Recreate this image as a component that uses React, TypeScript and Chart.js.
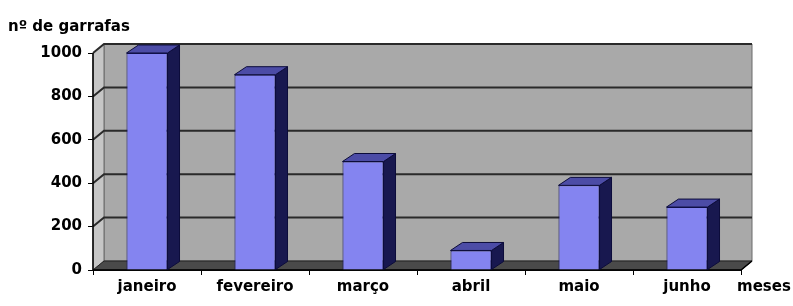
import React, { useEffect, useRef } from "react";
import { Chart, registerables } from "chart.js";

Chart.register(...registerables);

const categories = ["janeiro", "fevereiro", "março", "abril", "maio", "junho"];
const bottleCounts = [1000, 900, 500, 90, 390, 290];
const yMin = 0;
const yMax = 1000;
const yStep = 200;
const yAxisTitle = "nº de garrafas";
const xAxisTitle = "meses";

const FONT = "DejaVu Sans";
const WALL_DX = 11;
const WALL_DY = -9;
const BAR_DX = 12;
const BAR_DY = -8;

function poly(ctx: CanvasRenderingContext2D, pts: number[][], fill: string, stroke?: string, lw = 1) {
  ctx.beginPath();
  ctx.moveTo(pts[0][0], pts[0][1]);
  for (let i = 1; i < pts.length; i++) ctx.lineTo(pts[i][0], pts[i][1]);
  ctx.closePath();
  ctx.fillStyle = fill;
  ctx.fill();
  if (stroke) {
    ctx.strokeStyle = stroke;
    ctx.lineWidth = lw;
    ctx.stroke();
  }
}

const threeD = {
  id: "threeD",
  beforeDatasetsDraw(chart: any) {
    const { ctx, chartArea, scales } = chart;
    const { left, right, top, bottom } = chartArea;
    const y = scales.y;
    const dx = WALL_DX, dy = WALL_DY;
    ctx.save();
    // back wall
    poly(ctx, [[left + dx, top + dy], [right + dx, top + dy], [right + dx, bottom + dy], [left + dx, bottom + dy]], "#a9a9a9", "#6a6a6a", 1);
    // side wall
    poly(ctx, [[left, top], [left + dx, top + dy], [left + dx, bottom + dy], [left, bottom]], "#c6c6c6", "#6a6a6a", 1);
    // floor
    poly(ctx, [[left, bottom], [left + dx, bottom + dy], [right + dx, bottom + dy], [right, bottom]], "#4a4a4a", "#222", 1);
    // gridlines
    ctx.strokeStyle = "#2a2a2a";
    ctx.lineWidth = 2;
    y.ticks.forEach((t: any) => {
      if (t.value <= yMin) return;
      const py = y.getPixelForValue(t.value);
      ctx.beginPath();
      ctx.moveTo(left, py);
      ctx.lineTo(left + dx, py + dy);
      ctx.lineTo(right + dx, py + dy);
      ctx.stroke();
    });
    // front floor edge
    ctx.strokeStyle = "#000";
    ctx.lineWidth = 1.5;
    ctx.beginPath();
    ctx.moveTo(left, bottom);
    ctx.lineTo(right, bottom);
    ctx.lineTo(right + dx, bottom + dy);
    ctx.stroke();
    // left front edge
    ctx.beginPath();
    ctx.moveTo(left, top);
    ctx.lineTo(left, bottom);
    ctx.stroke();
    ctx.restore();
  },
  afterDatasetsDraw(chart: any) {
    const { ctx } = chart;
    const meta = chart.getDatasetMeta(0);
    ctx.save();
    meta.data.forEach((el: any) => {
      const { x, y, base, width } = el.getProps(["x", "y", "base", "width"], true);
      const l = x - width / 2;
      const r = x + width / 2;
      // side face
      poly(ctx, [[r, y], [r + BAR_DX, y + BAR_DY], [r + BAR_DX, base + BAR_DY], [r, base]], "#18184f", "#0c0c3a", 1);
      // top face
      poly(ctx, [[l, y], [l + BAR_DX, y + BAR_DY], [r + BAR_DX, y + BAR_DY], [r, y]], "#4c4ca6", "#0c0c3a", 1);
    });
    ctx.restore();
  },
  afterDraw(chart: any) {
    const { ctx } = chart;
    ctx.save();
    ctx.fillStyle = "#000";
    ctx.font = `bold 15px "${FONT}"`;
    ctx.textBaseline = "middle";
    ctx.textAlign = "left";
    ctx.fillText(yAxisTitle, 8, 27);
    ctx.fillText(xAxisTitle, 737, 287);
    ctx.restore();
  },
};

export default function App() {
  const ref = useRef<HTMLCanvasElement | null>(null);
  useEffect(() => {
    if (!ref.current) return;
    const chart = new Chart(ref.current, {
      type: "bar",
      data: {
        labels: categories,
        datasets: [
          {
            data: bottleCounts,
            backgroundColor: "#8484f0",
            borderColor: "#14145a",
            borderWidth: 1,
            barPercentage: 0.38,
            categoryPercentage: 1,
          },
        ],
      },
      options: {
        animation: false,
        responsive: false,
        devicePixelRatio: 1,
        layout: { padding: { top: 53, right: 52, left: 0, bottom: 0 } },
        plugins: { legend: { display: false }, tooltip: { enabled: false }, title: { display: false } },
        scales: {
          x: {
            grid: { drawOnChartArea: false, drawTicks: true, tickLength: 5, color: "#000", offset: true },
            border: { display: true, color: "#000", width: 1 },
            ticks: { color: "#000", font: { family: FONT, weight: "bold", size: 15 }, padding: 3, maxRotation: 0, autoSkip: false },
            afterFit: (s: any) => { s.height = 36; },
          },
          y: {
            min: yMin,
            max: yMax,
            grid: { drawOnChartArea: false, drawTicks: true, tickLength: 5, color: "#000" },
            border: { display: true, color: "#000", width: 1 },
            ticks: {
              stepSize: yStep,
              color: "#000",
              font: { family: FONT, weight: "bold", size: 15 },
              padding: 6,
              callback: (v: any) => String(v),
            },
            afterFit: (s: any) => { s.width = 93; },
          },
        },
      },
      plugins: [threeD],
    });
    return () => chart.destroy();
  }, []);
  return (
    <div style={{ position: "fixed", left: 0, top: 0, width: 793, height: 306, background: "#fff" }}>
      <canvas ref={ref} width={793} height={306} style={{ width: 793, height: 306, display: "block" }} />
    </div>
  );
}
